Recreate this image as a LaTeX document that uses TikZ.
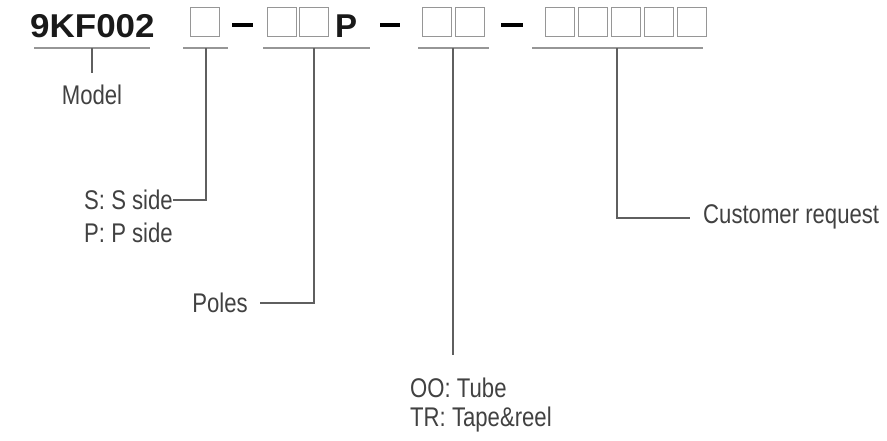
\documentclass[tikz,border=0pt]{standalone}
\usepackage{fontspec}
\setmainfont{Liberation Sans}
\newfontfamily\labelfont{Liberation Sans}[FakeStretch=0.82]
\newfontfamily\codefont{Liberation Sans}[FakeStretch=1.06]
\definecolor{txtgray}{RGB}{65,65,65}
\definecolor{linegray}{RGB}{150,150,150}
\definecolor{conngray}{RGB}{95,95,95}
\begin{document}
\begin{tikzpicture}[x=1pt,y=-1pt,
  lbl/.style={inner sep=0pt,text=txtgray,font=\labelfont\fontsize{27}{33}\selectfont},
  cbox/.style={draw=linegray,line width=1.2pt,minimum width=29pt,minimum height=29pt,inner sep=0pt},
  uline/.style={draw=linegray,line width=1.6pt},
  conn/.style={draw=conngray,line width=1.1pt},
  dashbar/.style={draw=black,line width=4.5pt}]
\useasboundingbox (0,0) rectangle (887,440);
% code line
\node[inner sep=0pt,anchor=west,font=\codefont\bfseries\fontsize{33}{38}\selectfont,text=black!90] (code) at (30,26) {9KF002};
\node[cbox] (b1) at (205,22) {};
\node[cbox] (b2) at (282,22) {};
\node[cbox] (b3) at (314,22) {};
\node[inner sep=0pt,anchor=west,font=\bfseries\fontsize{33}{38}\selectfont,text=black!90] (pp) at (335,26) {P};
\node[cbox] (b4) at (437,22) {};
\node[cbox] (b5) at (470,22) {};
\node[cbox] (b6) at (560,22) {};
\node[cbox] (b7) at (593,22) {};
\node[cbox] (b8) at (626,22) {};
\node[cbox] (b9) at (659,22) {};
\node[cbox] (b10) at (692,22) {};
% dashes
\coordinate (d1a) at (232,25); \coordinate (d1b) at (253,25);
\coordinate (d2a) at (380,25); \coordinate (d2b) at (400,25);
\coordinate (d3a) at (501,25); \coordinate (d3b) at (523,25);
\draw[dashbar] (d1a) -- (d1b);
\draw[dashbar] (d2a) -- (d2b);
\draw[dashbar] (d3a) -- (d3b);
% underlines
\coordinate (u0a) at (34,48);  \coordinate (u0b) at (150,48); \coordinate (u0) at (92,48);
\coordinate (u1a) at (183,48); \coordinate (u1b) at (228,48); \coordinate (u1) at (206,48);
\coordinate (u2a) at (263,48); \coordinate (u2b) at (370,48); \coordinate (u2) at (314,48);
\coordinate (u3a) at (418,48); \coordinate (u3b) at (489,48); \coordinate (u3) at (453,48);
\coordinate (u4a) at (532,48); \coordinate (u4b) at (703,48); \coordinate (u4) at (617,48);
\draw[uline] (u0a) -- (u0b);
\draw[uline] (u1a) -- (u1b);
\draw[uline] (u2a) -- (u2b);
\draw[uline] (u3a) -- (u3b);
\draw[uline] (u4a) -- (u4b);
% labels
\node[lbl] (model) at (92,95) {Model};
\node[lbl,anchor=east] (sside) at (173,200) {S: S side};
\node[lbl,anchor=west] (pside) at (sside.west |- 0,233) {P: P side};
\node[lbl,anchor=east] (poles) at (248,303) {Poles};
\node[lbl,anchor=west] (tube) at (410,388) {OO: Tube};
\node[lbl,anchor=west] (tape) at (410,420) {TR: Tape\&reel};
\node[lbl,anchor=west] (cust) at (703,217) {Customer request};
% connectors
\coordinate (m1) at (92,73);
\draw[conn] (u0) -- (m1);
\draw[conn] (u1) |- (sside.east);
\coordinate (p1) at (260,303);
\draw[conn] (u2) |- (p1);
\coordinate (t1) at (453,355);
\draw[conn] (u3) -- (t1);
\coordinate (c1) at (690,218);
\draw[conn] (u4) |- (c1);
\end{tikzpicture}
\end{document}
